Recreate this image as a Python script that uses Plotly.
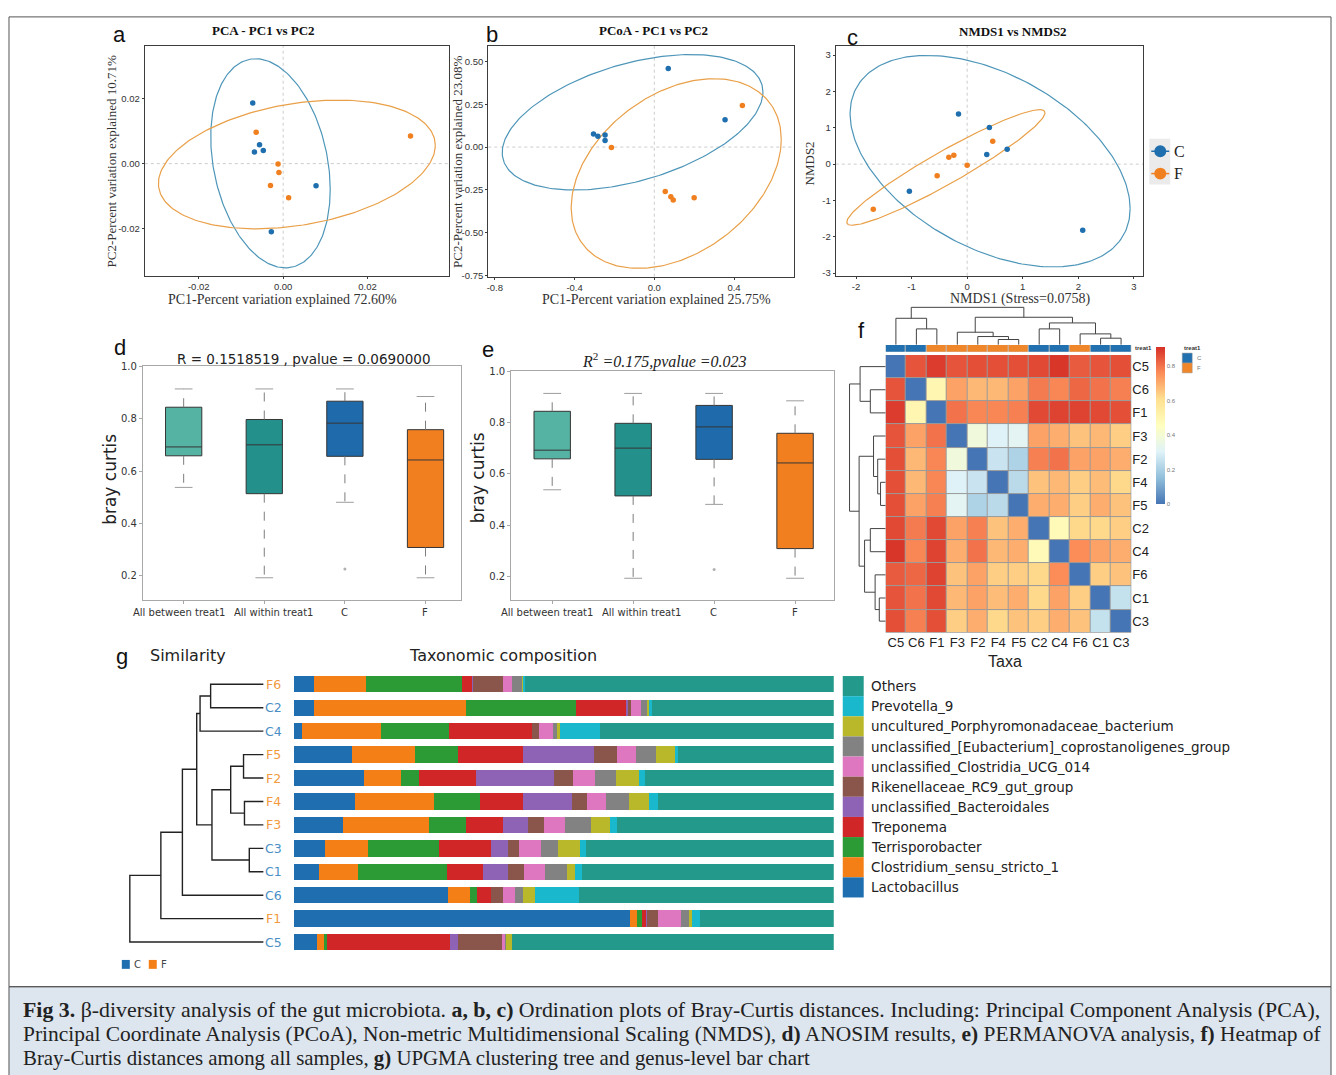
import numpy as np
import plotly.graph_objects as go

W, H = 1336, 1075
SANS = "Liberation Sans, Arial, sans-serif"
DJV = "DejaVu Sans, sans-serif"
SERIF = "Liberation Serif, Times New Roman, serif"
BLUE = "#1f6fae"
ORANGE = "#f0801f"

# ---------------- panel a : PCA ----------------
pca_C_x = [-0.0072, -0.0056, -0.0068, -0.0047, 0.0078, -0.0028]
pca_C_y = [0.0186, 0.0058, 0.0036, 0.0040, -0.0068, -0.0209]
pca_F_x = [-0.0064, -0.0012, -0.0010, -0.0030, 0.0013, 0.0302]
pca_F_y = [0.0096, -0.0001, -0.0027, -0.0067, -0.0105, 0.0085]
# ellipse: centre x, centre y, half x-extent, half y-extent, cos(phase)
pca_ell_C = [-0.0030, 0.0001, 0.01416, 0.03208, -0.25]
pca_ell_F = [0.00325, -0.00025, 0.03282, 0.01975, 0.295]

# ---------------- panel b : PCoA ----------------
pcoa_C_x = [0.070, 0.355, -0.305, -0.283, -0.247, -0.247]
pcoa_C_y = [0.460, 0.160, 0.077, 0.064, 0.071, 0.039]
pcoa_F_x = [0.442, -0.215, 0.055, 0.083, 0.095, 0.200]
pcoa_F_y = [0.243, -0.002, -0.260, -0.290, -0.309, -0.296]
pcoa_ell_C = [-0.109, 0.145, 0.654, 0.396, 0.447]
pcoa_ell_F = [0.110, -0.1546, 0.527, 0.5545, 0.36]

# ---------------- panel c : NMDS ----------------
nmds_C_x = [-0.156, 0.40, 0.72, 0.353, -1.04, 2.08]
nmds_C_y = [1.38, 1.01, 0.41, 0.264, -0.745, -1.82]
nmds_F_x = [0.46, -0.24, -0.33, 0.0, -0.54, -1.69]
nmds_F_y = [0.627, 0.245, 0.19, -0.03, -0.32, -1.24]
nmds_ell_C = [0.413, 0.082, 2.52, 2.91, -0.449]
nmds_ell_F = [-0.383, -0.091, 1.784, 1.59, 0.946]

# ---------------- panels d / e : Bray-Curtis boxes ----------------
bc_cats = ["All between treat1", "All within treat1", "C", "F"]
bc_upper = [0.915, 0.915, 0.915, 0.886]
bc_q3 = [0.845, 0.798, 0.868, 0.759]
bc_med = [0.693, 0.701, 0.784, 0.643]
bc_q1 = [0.659, 0.514, 0.657, 0.308]
bc_lower = [0.538, 0.192, 0.481, 0.192]
bc_out_cat = [2]
bc_out_val = [0.226]
box_colors = ["#55b3a3", "#23908b", "#1f6aaa", "#f17f20"]

# ---------------- panel f : heatmap ----------------
hm_order = ["C5", "C6", "F1", "F3", "F2", "F4", "F5", "C2", "C4", "F6", "C1", "C3"]
hm_groups = ["C", "C", "F", "F", "F", "F", "F", "C", "C", "F", "C", "C"]
bc_matrix = [
    [0.00, 0.85, 0.89, 0.85, 0.86, 0.86, 0.86, 0.87, 0.90, 0.84, 0.85, 0.86],
    [0.85, 0.00, 0.50, 0.72, 0.68, 0.68, 0.72, 0.79, 0.77, 0.82, 0.80, 0.78],
    [0.89, 0.50, 0.00, 0.80, 0.77, 0.77, 0.78, 0.87, 0.88, 0.88, 0.87, 0.86],
    [0.85, 0.72, 0.80, 0.00, 0.38, 0.30, 0.32, 0.72, 0.70, 0.66, 0.68, 0.64],
    [0.86, 0.68, 0.77, 0.38, 0.00, 0.26, 0.21, 0.78, 0.80, 0.72, 0.72, 0.70],
    [0.86, 0.68, 0.77, 0.30, 0.26, 0.00, 0.23, 0.66, 0.68, 0.64, 0.67, 0.62],
    [0.86, 0.72, 0.78, 0.32, 0.21, 0.23, 0.00, 0.70, 0.70, 0.64, 0.70, 0.66],
    [0.87, 0.79, 0.87, 0.72, 0.78, 0.66, 0.70, 0.00, 0.48, 0.62, 0.62, 0.64],
    [0.90, 0.77, 0.88, 0.70, 0.80, 0.68, 0.70, 0.48, 0.00, 0.76, 0.72, 0.70],
    [0.84, 0.82, 0.88, 0.66, 0.72, 0.64, 0.64, 0.62, 0.76, 0.00, 0.64, 0.66],
    [0.85, 0.80, 0.87, 0.68, 0.72, 0.67, 0.70, 0.62, 0.72, 0.64, 0.00, 0.25],
    [0.86, 0.78, 0.86, 0.64, 0.70, 0.62, 0.66, 0.64, 0.70, 0.66, 0.25, 0.00],
]
# merges: (child a, child b, relative height)
hm_merges = [
    ("C6", "F1", 0.425), ("C5", "m0", 0.708), ("F4", "F5", 0.142),
    ("F2", "m2", 0.221), ("F3", "m3", 0.336), ("C2", "C4", 0.425),
    ("C1", "C3", 0.177), ("F6", "m6", 0.292), ("m5", "m7", 0.584),
    ("m4", "m8", 0.735), ("m1", "m9", 1.0),
]
hm_colorscale = [[0, "#4575B4"], [1 / 6, "#91BFDB"], [2 / 6, "#E0F3F8"], [3 / 6, "#FFFFBF"],
                 [4 / 6, "#FEE090"], [5 / 6, "#FC8D59"], [1, "#D73027"]]
hm_ticks = [0, 0.2, 0.4, 0.6, 0.8]
hm_ticktext = ["0", "0.2", "0.4", "0.6", "0.8"]

# ---------------- panel g : UPGMA + composition ----------------
g_samples = ["F6", "C2", "C4", "F5", "F2", "F4", "F3", "C3", "C1", "C6", "F1", "C5"]
g_merges = [
    ("F6", "C2", 0.396), ("m0", "C4", 0.475), ("F5", "F2", 0.150),
    ("F4", "F3", 0.143), ("m2", "m3", 0.246), ("C3", "C1", 0.107),
    ("m4", "m5", 0.386), ("m1", "m6", 0.500), ("m7", "C6", 0.607),
    ("m8", "F1", 0.768), ("m9", "C5", 1.0),
]
taxa = ["Lactobacillus", "Clostridium_sensu_stricto_1", "Terrisporobacter", "Treponema",
        "unclassified_Bacteroidales", "Rikenellaceae_RC9_gut_group", "unclassified_Clostridia_UCG_014",
        "unclassified_[Eubacterium]_coprostanoligenes_group", "uncultured_Porphyromonadaceae_bacterium",
        "Prevotella_9", "Others"]
taxa_colors = ["#1f6fb0", "#f57f17", "#2c9a35", "#d02628", "#8e63b5", "#8a554a",
               "#df77c0", "#828282", "#b8b82a", "#1ab8cc", "#22998a"]
abund = {
    "Lactobacillus": [.0383, .0383, .0148, .1080, .1307, .1132, .0906, .0584, .0470, .2866, .6237, .0436],
    "Clostridium_sensu_stricto_1": [.0958, .2814, .1463, .1176, .0679, .1463, .1603, .0793, .0714, .0392, .0113, .0131],
    "Terrisporobacter": [.1786, .2030, .1263, .0784, .0331, .0854, .0679, .1324, .1655, .0139, .0105, .0044],
    "Treponema": [.0174, .0932, .1533, .1211, .1054, .0793, .0688, .0949, .0662, .0253, .0078, .2282],
    "unclassified_Bacteroidales": [.0020, .0035, .0010, .1315, .1446, .0906, .0462, .0322, .0470, .0010, .0010, .0148],
    "Rikenellaceae_RC9_gut_group": [.0549, .0061, .0131, .0427, .0348, .0279, .0305, .0200, .0296, .0226, .0200, .0819],
    "unclassified_Clostridia_UCG_014": [.0166, .0174, .0261, .0348, .0409, .0348, .0383, .0401, .0392, .0209, .0436, .0052],
    "unclassified_[Eubacterium]_coprostanoligenes_group": [.0200, .0113, .0070, .0375, .0392, .0427, .0479, .0314, .0401, .0148, .0139, .0020],
    "uncultured_Porphyromonadaceae_bacterium": [.0010, .0044, .0061, .0348, .0427, .0375, .0348, .0418, .0157, .0226, .0052, .0105],
    "Prevotella_9": [.0035, .0044, .0732, .0061, .0105, .0166, .0139, .0105, .0122, .0819, .0157, .0010],
    "Others": [.573, .337, .434, .2875, .350, .326, .401, .459, .466, .472, .248, .598],
}
group_text_colors = {"C": "#4a8fc4", "F": "#f19a3e"}

# =====================================================================
fig = go.Figure()
layout = {}
ann = []
shp = []


def xd(p0, p1):
    return [p0 / W, p1 / W]


def yd(p0, p1):
    return [1 - p1 / H, 1 - p0 / H]


def px(x):
    return x / W


def py(y):
    return 1 - y / H


def txt(x, y, s, size, family=SANS, color="#111", xa="center", ya="middle", angle=0):
    ann.append(dict(x=px(x), y=py(y), xref="paper", yref="paper", text=s, showarrow=False,
                    font=dict(size=size, family=family, color=color), xanchor=xa, yanchor=ya,
                    textangle=angle))


def prect(x0, y0, x1, y1, fill, line_color=None, lw=0, layer="above"):
    shp.append(dict(type="rect", xref="paper", yref="paper", x0=px(x0), x1=px(x1), y0=py(y1), y1=py(y0),
                    fillcolor=fill, line=dict(color=line_color or fill, width=lw), layer=layer))


def ellipse(p, n=240):
    cx, cy, rx, ry, cphi = p
    phi = np.arccos(cphi)
    t = np.linspace(0, 2 * np.pi, n)
    return cx + rx * np.cos(t), cy + ry * np.cos(t - phi)


def dendro(merges, leaves):
    pos = {n: i for i, n in enumerate(leaves)}
    hgt = {n: 0.0 for n in leaves}
    P, Hh = [], []
    for i, (a, b, h) in enumerate(merges):
        P += [pos[a], pos[a], pos[b], pos[b], None]
        Hh += [hgt[a], h, h, hgt[b], None]
        pos["m%d" % i] = (pos[a] + pos[b]) / 2
        hgt["m%d" % i] = h
    return P, Hh


def scatter_panel(i, xdom, ydom, xr, yr, xtv, xtt, ytv, ytt, cx, cy, fx, fy, ec, ef):
    n = "" if i == 1 else str(i)
    xa, ya = "x" + n, "y" + n
    for p, col in ((ec, "#4e96b9"), (ef, "#e9a049")):
        ex, ey = ellipse(p)
        fig.add_trace(go.Scatter(x=ex, y=ey, mode="lines", line=dict(color=col, width=1.2),
                                 xaxis=xa, yaxis=ya, hoverinfo="skip"))
    fig.add_trace(go.Scatter(x=cx, y=cy, mode="markers", marker=dict(color=BLUE, size=5.5),
                             xaxis=xa, yaxis=ya))
    fig.add_trace(go.Scatter(x=fx, y=fy, mode="markers", marker=dict(color=ORANGE, size=5.5),
                             xaxis=xa, yaxis=ya))
    common = dict(showgrid=False, zeroline=False, showline=True, mirror=True, linecolor="#3c3c3c",
                  linewidth=1.2, ticks="outside", ticklen=2, tickcolor="#3c3c3c",
                  tickfont=dict(family=SANS, size=9.5, color="#333"))
    layout["xaxis" + n] = dict(domain=xdom, range=xr, anchor=ya, tickvals=xtv, ticktext=xtt, **common)
    layout["yaxis" + n] = dict(domain=ydom, range=yr, anchor=xa, tickvals=ytv, ticktext=ytt, **common)
    shp.append(dict(type="line", xref=xa, yref=ya + " domain", x0=0, x1=0, y0=0, y1=1,
                    line=dict(color="#cccccc", width=1, dash="dot"), layer="below"))
    shp.append(dict(type="line", xref=xa + " domain", yref=ya, x0=0, x1=1, y0=0, y1=0,
                    line=dict(color="#cccccc", width=1, dash="dot"), layer="below"))


# ---- a, b, c ----
scatter_panel(1, xd(143, 448), yd(41, 273), [-0.0328, 0.0394], [-0.0344, 0.0362],
              [-0.02, 0, 0.02], ["-0.02", "0.00", "0.02"], [-0.02, 0, 0.02], ["-0.02", "0.00", "0.02"],
              pca_C_x, pca_C_y, pca_F_x, pca_F_y, pca_ell_C, pca_ell_F)
scatter_panel(2, xd(487, 793), yd(41, 274), [-0.833, 0.70], [-0.758, 0.593],
              [-0.8, -0.4, 0, 0.4], ["-0.8", "-0.4", "0.0", "0.4"],
              [-0.75, -0.5, -0.25, 0, 0.25, 0.5], ["-0.75", "-0.50", "-0.25", "0.00", "0.25", "0.50"],
              pcoa_C_x, pcoa_C_y, pcoa_F_x, pcoa_F_y, pcoa_ell_C, pcoa_ell_F)
scatter_panel(3, xd(835, 1143), yd(41, 273), [-2.365, 3.17], [-3.07, 3.26],
              [-2, -1, 0, 1, 2, 3], ["-2", "-1", "0", "1", "2", "3"],
              [-3, -2, -1, 0, 1, 2, 3], ["-3", "-2", "-1", "0", "1", "2", "3"],
              nmds_C_x, nmds_C_y, nmds_F_x, nmds_F_y, nmds_ell_C, nmds_ell_F)

txt(262, 26, "<b>PCA - PC1 vs PC2</b>", 13, SERIF)
txt(652, 26, "<b>PCoA - PC1 vs PC2</b>", 13, SERIF)
txt(1013, 27, "<b>NMDS1 vs NMDS2</b>", 13, SERIF)
txt(281, 297, "PC1-Percent variation explained 72.60%", 14, SERIF, "#333")
txt(110, 158, "PC2-Percent variation explained 10.71%", 13, SERIF, "#333", angle=-90)
txt(655, 297, "PC1-Percent variation explained 25.75%", 14, SERIF, "#333")
txt(456, 158, "PC2-Percent variation explained 23.08%", 13, SERIF, "#333", angle=-90)
txt(1020, 296, "NMDS1 (Stress=0.0758)", 14, SERIF, "#333")
txt(809, 160, "NMDS2", 13, SERIF, "#333", angle=-90)

# legend of panel c
prect(1149, 135, 1170, 181, "#ebebeb")
for yy, col, lab in ((147.5, BLUE, "C"), (170, ORANGE, "F")):
    shp.append(dict(type="line", xref="paper", yref="paper", x0=px(1151), x1=px(1169), y0=py(yy), y1=py(yy),
                    line=dict(color=col, width=1.5)))
    shp.append(dict(type="circle", xref="paper", yref="paper", x0=px(1154), x1=px(1166), y0=py(yy + 6),
                    y1=py(yy - 6), fillcolor=col, line=dict(color=col, width=0)))
    txt(1172, yy, lab, 16, SERIF, "#222", xa="left")


# ---- d, e ----
def box_panel(i, xdom, ydom, xr, yr, label_x):
    n = str(i)
    xa, ya = "x" + n, "y" + n
    for k in range(4):
        fig.add_trace(go.Box(x=[k], q1=[bc_q1[k]], median=[bc_med[k]], q3=[bc_q3[k]],
                             lowerfence=[bc_q1[k]], upperfence=[bc_q3[k]], width=0.45,
                             fillcolor=box_colors[k], line=dict(color="#353535", width=1),
                             boxpoints=False, whiskerwidth=0, xaxis=xa, yaxis=ya, hoverinfo="skip"))
    wx, wy, cxs, cys = [], [], [], []
    for k in range(4):
        wx += [k, k, None, k, k, None]
        wy += [bc_q3[k], bc_upper[k], None, bc_q1[k], bc_lower[k], None]
        cxs += [k - 0.11, k + 0.11, None, k - 0.11, k + 0.11, None]
        cys += [bc_upper[k], bc_upper[k], None, bc_lower[k], bc_lower[k], None]
    fig.add_trace(go.Scatter(x=wx, y=wy, mode="lines", line=dict(color="#7d7d7d", width=1, dash="dash"),
                             xaxis=xa, yaxis=ya, hoverinfo="skip"))
    fig.add_trace(go.Scatter(x=cxs, y=cys, mode="lines", line=dict(color="#9d9d9d", width=1),
                             xaxis=xa, yaxis=ya, hoverinfo="skip"))
    fig.add_trace(go.Scatter(x=bc_out_cat, y=bc_out_val, mode="markers", marker=dict(color="#b0b0b0", size=3),
                             xaxis=xa, yaxis=ya, hoverinfo="skip"))
    common = dict(showgrid=False, zeroline=False, showline=True, mirror=True, linecolor="#a8a8a8",
                  linewidth=1, ticks="outside", ticklen=3, tickcolor="#a8a8a8", tickangle=0,
                  tickfont=dict(family=DJV, size=10, color="#333"))
    layout["xaxis" + n] = dict(domain=xdom, range=xr, anchor=ya, type="linear", tickvals=[0, 1, 2, 3],
                               showticklabels=False, **common)
    layout["yaxis" + n] = dict(domain=ydom, range=yr, anchor=xa, tickvals=[0.2, 0.4, 0.6, 0.8, 1.0],
                               ticktext=["0.2", "0.4", "0.6", "0.8", "1.0"], **common)
    for lab, lx in zip(bc_cats, label_x):
        txt(lx, 612.5, lab, 10, DJV, "#333")


box_panel(4, xd(141, 460), yd(364, 600), [-0.507, 3.444], [0.107, 1.003], [177.5, 271.5, 343, 424])
box_panel(5, xd(510, 833), yd(369, 600), [-0.506, 3.478], [0.107, 1.003], [546, 640, 713, 794])
txt(302, 357, "R = 0.1518519 , pvalue = 0.0690000", 13.5, DJV, "#222")
txt(663, 359, "<i>R</i><sup>2</sup><i> =0.175,pvalue =0.023</i>", 16, SERIF, "#222")
txt(108, 478, "bray curtis", 17, DJV, "#222", angle=-90)
txt(477, 477, "bray curtis", 17, DJV, "#222", angle=-90)

# ---- f heatmap ----
fig.add_trace(go.Heatmap(z=bc_matrix, x=list(range(12)), y=list(range(12)), colorscale=hm_colorscale,
                         zmin=0, zmax=0.91, xgap=1, ygap=1, xaxis="x6", yaxis="y6", hoverinfo="skip",
                         colorbar=dict(x=px(1155.5), xanchor="left", y=py(345), yanchor="top",
                                       len=157, lenmode="pixels", thickness=9, thicknessmode="pixels",
                                       outlinewidth=0, xpad=0, ypad=0, tickvals=hm_ticks,
                                       ticktext=hm_ticktext, ticks="",
                                       tickfont=dict(size=6, color="#777", family=SANS))))
shp.append(dict(type="rect", xref="x6 domain", yref="y6 domain", x0=0, x1=1, y0=0, y1=1,
                fillcolor="#9a9a9a", line=dict(width=0), layer="below"))
layout["xaxis6"] = dict(domain=xd(885, 1131), range=[-0.5, 11.5], anchor="y6", tickvals=list(range(12)),
                        ticktext=hm_order, showline=False, ticks="", showgrid=False, zeroline=False,
                        tickfont=dict(size=13, family=SANS, color="#222"))
layout["yaxis6"] = dict(domain=yd(353, 633), range=[11.5, -0.5], anchor="x6", side="right",
                        tickvals=list(range(12)), ticktext=hm_order, showline=False, ticks="",
                        showgrid=False, zeroline=False, tickfont=dict(size=13, family=SANS, color="#222"))
# annotation bar
treat_code = [0 if g == "C" else 1 for g in hm_groups]
fig.add_trace(go.Heatmap(z=[treat_code], x=list(range(12)), y=[0],
                         colorscale=[[0, "#2170b0"], [0.5, "#2170b0"], [0.5, "#f0862a"], [1, "#f0862a"]],
                         zmin=0, zmax=1, showscale=False, xgap=1, xaxis="x7", yaxis="y7", hoverinfo="skip"))
shp.append(dict(type="rect", xref="x7 domain", yref="y7 domain", x0=0, x1=1, y0=0, y1=1,
                fillcolor="#bdbdbd", line=dict(width=0), layer="below"))
layout["xaxis7"] = dict(domain=xd(885, 1131), range=[-0.5, 11.5], anchor="y7", visible=False)
layout["yaxis7"] = dict(domain=yd(342.8, 349.6), range=[-0.5, 0.5], anchor="x7", visible=False)
txt(1133, 345.5, "<b>treat1</b>", 6, SANS, "#333", xa="left")
# dendrograms of heatmap
P, Hh = dendro(hm_merges, hm_order)
fig.add_trace(go.Scatter(x=P, y=Hh, mode="lines", line=dict(color="#444", width=1), xaxis="x8", yaxis="y8",
                         hoverinfo="skip"))
layout["xaxis8"] = dict(domain=xd(885, 1131), range=[-0.5, 11.5], anchor="y8", visible=False)
layout["yaxis8"] = dict(domain=yd(303, 342.7), range=[0, 1.05], anchor="x8", visible=False)
fig.add_trace(go.Scatter(x=Hh, y=P, mode="lines", line=dict(color="#444", width=1), xaxis="x9", yaxis="y9",
                         hoverinfo="skip"))
layout["xaxis9"] = dict(domain=xd(847, 885), range=[1.05, 0], anchor="y9", visible=False)
layout["yaxis9"] = dict(domain=yd(353, 633), range=[11.5, -0.5], anchor="x9", visible=False)
txt(1005, 662, "Taxa", 16, SANS, "#222")
# treat1 legend
txt(1182, 346, "<b>treat1</b>", 6, SANS, "#333", xa="left")
prect(1182, 351, 1192, 361, "#2170b0", "#999", 0.5)
prect(1182, 361, 1192, 371, "#f0862a", "#999", 0.5)
txt(1195, 356, "C", 6, SANS, "#777", xa="left")
txt(1195, 366, "F", 6, SANS, "#777", xa="left")

# ---- g ----
P, Hh = dendro(g_merges, g_samples)
fig.add_trace(go.Scatter(x=Hh, y=P, mode="lines", line=dict(color="#222", width=1.4), xaxis="x10", yaxis="y10",
                         hoverinfo="skip"))
layout["xaxis10"] = dict(domain=xd(126, 262), range=[1.015, 0], anchor="y10", visible=False)
layout["yaxis10"] = dict(domain=yd(673.2, 956.8), range=[11.5, -0.5], anchor="x10", visible=False)
for t, col in zip(taxa, taxa_colors):
    fig.add_trace(go.Bar(x=abund[t], y=list(range(12)), orientation="h", width=0.7,
                         marker=dict(color=col, line=dict(width=0)), xaxis="x11", yaxis="y11",
                         hoverinfo="skip"))
layout["xaxis11"] = dict(domain=xd(292, 833), range=[0, 1.0], anchor="y11", visible=False)
layout["yaxis11"] = dict(domain=yd(673.2, 956.8), range=[11.5, -0.5], anchor="x11", visible=False)
for i, s in enumerate(g_samples):
    txt(272, 685 + i * 23.64, s, 12.5, DJV, group_text_colors[s[0]])
txt(186, 656, "Similarity", 16, DJV, "#222")
txt(502, 656, "Taxonomic composition", 16, DJV, "#222")
# composition legend
for k, (t, col) in enumerate(zip(taxa[::-1], taxa_colors[::-1])):
    y0 = 676.7 + k * 20.3
    prect(842, y0, 863, y0 + 20.3, col)
    txt(868, y0 + 10.2, t, 13.5, DJV, "#222", xa="left")
# C / F legend
prect(120, 963, 128, 972, "#1f6fb0")
txt(130, 968, "C", 10, DJV, "#444", xa="left")
prect(147, 963, 155, 972, "#f57f17")
txt(157, 968, "F", 10, DJV, "#444", xa="left")

# ---- panel letters ----
for lab, x, y in (("a", 118, 30), ("b", 491, 30), ("c", 852, 33), ("d", 118, 345), ("e", 487, 347),
                  ("f", 861, 328), ("g", 120, 657)):
    txt(x, y, lab, 22, SANS, "#111")

# ---- frame & caption ----
prect(7, 990, 1331, 1090, "#dde5ee", "#555", 1, layer="below")
shp.append(dict(type="rect", xref="paper", yref="paper", x0=px(7), x1=px(1331), y0=py(990), y1=py(12),
                line=dict(color="#555", width=1), fillcolor="rgba(0,0,0,0)", layer="below"))
cap = [
    "<b>Fig 3.</b> β-diversity analysis of the gut microbiota. <b>a, b, c)</b> Ordination plots of Bray-Curtis "
    "distances. Including: Principal Component Analysis (PCA),",
    "Principal Coordinate Analysis (PCoA), Non-metric Multidimensional Scaling (NMDS), <b>d)</b> ANOSIM results, "
    "<b>e)</b> PERMANOVA analysis, <b>f)</b> Heatmap of",
    "Bray-Curtis distances among all samples, <b>g)</b> UPGMA clustering tree and genus-level bar chart",
]
cap_sizes = [21.85, 21.45, 20.85]
for k, line in enumerate(cap):
    txt(19, 1013 + k * 24.5, line, cap_sizes[k], SERIF, "#222", xa="left")

layout.update(width=W, height=H, margin=dict(l=0, r=0, t=0, b=0), paper_bgcolor="white",
              plot_bgcolor="white", showlegend=False, barmode="stack", bargap=0.3,
              annotations=ann, shapes=shp)
fig.update_layout(**layout)
fig.write_html("out.html", config={"displayModeBar": False},
               post_script="document.body.style.margin='0px';document.body.style.overflow='hidden';")
